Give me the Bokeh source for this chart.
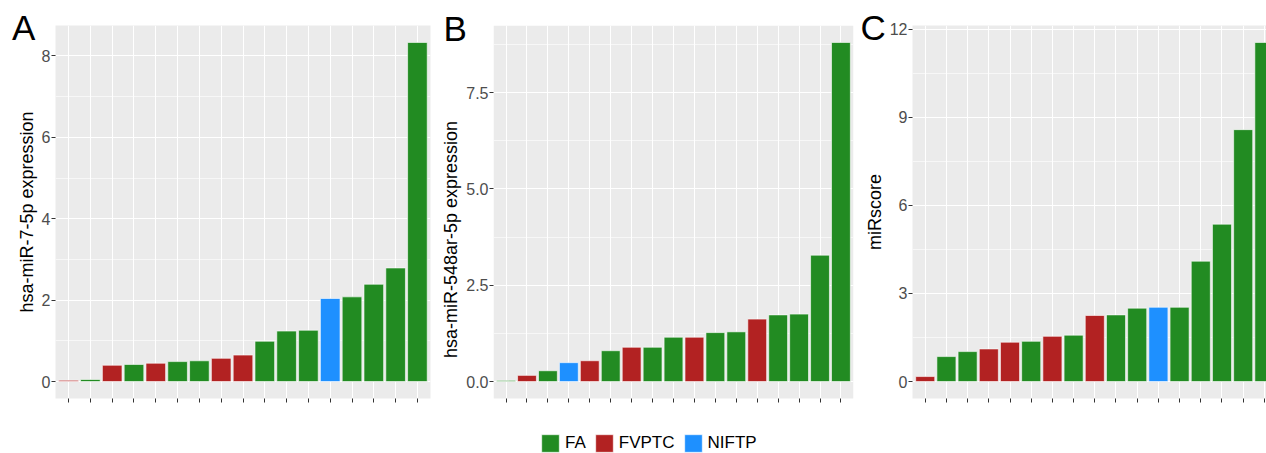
from bokeh.plotting import figure
from bokeh.models import Range1d, FixedTicker, Label, ColumnDataSource, BoxAnnotation
from bokeh.transform import factor_cmap
from bokeh.layouts import row
from bokeh.embed import file_html
from bokeh.resources import INLINE

FONT = "Liberation Sans"
PANEL_BG = "#EBEBEB"

groups = ["FA", "FVPTC", "NIFTP"]
group_colors = ["#228B22", "#B22222", "#1E90FF"]

# Panel A: hsa-miR-7-5p expression (sorted samples)
a_values = [0.03, 0.05, 0.40, 0.42, 0.45, 0.49, 0.51, 0.57, 0.65, 0.99,
            1.24, 1.26, 2.04, 2.08, 2.39, 2.79, 8.33]
a_groups = ["FVPTC", "FA", "FVPTC", "FA", "FVPTC", "FA", "FA", "FVPTC", "FVPTC", "FA",
            "FA", "FA", "NIFTP", "FA", "FA", "FA", "FA"]
a_ticks = [0, 2, 4, 6, 8]
a_tick_labels = ["0", "2", "4", "6", "8"]
a_minor = [1, 3, 5, 7]

# Panel B: hsa-miR-548ar-5p expression
b_values = [0.03, 0.16, 0.28, 0.49, 0.54, 0.80, 0.89, 0.89, 1.15, 1.15,
            1.27, 1.29, 1.62, 1.73, 1.75, 3.28, 8.80]
b_groups = ["FA", "FVPTC", "FA", "NIFTP", "FVPTC", "FA", "FVPTC", "FA", "FA", "FVPTC",
            "FA", "FA", "FVPTC", "FA", "FA", "FA", "FA"]
b_ticks = [0, 2.5, 5, 7.5]
b_tick_labels = ["0.0", "2.5", "5.0", "7.5"]
b_minor = [1.25, 3.75, 6.25, 8.75]

# Panel C: miRscore
c_values = [0.17, 0.85, 1.02, 1.11, 1.34, 1.37, 1.54, 1.58, 2.25, 2.27,
            2.50, 2.53, 2.53, 4.10, 5.36, 8.58, 11.55]
c_groups = ["FVPTC", "FA", "FA", "FVPTC", "FVPTC", "FA", "FVPTC", "FA", "FVPTC", "FA",
            "FA", "NIFTP", "FA", "FA", "FA", "FA", "FA"]
c_ticks = [0, 3, 6, 9, 12]
c_tick_labels = ["0", "3", "6", "9", "12"]
c_minor = [1.5, 4.5, 7.5, 10.5]

titles = ["hsa-miR-7-5p expression", "hsa-miR-548ar-5p expression", "miRscore"]
letters = ["A", "B", "C"]

PANEL_H = 373      # height of the grey plotting panel in px
TOP = 25


def panel(values, grp, ticks, tick_labels, minor, title, letter,
          frame_w, mb_left, mb_right, x_end, letter_x, legend=False):
    n = len(values)
    x = list(range(1, n + 1))
    src = ColumnDataSource(dict(x=x, top=values, group=grp))
    vmax = max(values)
    y0, y1 = -0.05 * vmax, 1.05 * vmax

    if legend:
        # frame extended down to the page bottom so that the legend can sit inside it
        frame_h = 428
        y_start = y1 - (y1 - y0) * frame_h / PANEL_H
        mb_bottom = 50
        bg = "white"
    else:
        frame_h = PANEL_H
        y_start = y0
        mb_bottom = 55
        bg = PANEL_BG

    p = figure(frame_width=frame_w, frame_height=frame_h,
               min_border_left=mb_left, min_border_right=mb_right,
               min_border_top=TOP, min_border_bottom=mb_bottom,
               x_range=Range1d(0.4, x_end),
               y_range=Range1d(y_start, y1),
               output_backend="svg", toolbar_location=None,
               background_fill_color=bg, border_fill_color="white",
               outline_line_color=None)
    if legend:
        p.add_layout(BoxAnnotation(bottom=y0, fill_color=PANEL_BG, fill_alpha=1,
                                   line_color=None, level="image"))

    kw = {}
    if legend:
        kw["legend_group"] = "group"
    p.vbar(x="x", top="top", bottom=0, width=0.9, source=src,
           fill_color=factor_cmap("group", group_colors, groups),
           line_color="white", line_width=0.6, **kw)

    # x axis: ticks only
    p.xaxis.ticker = FixedTicker(ticks=x)
    p.xaxis.major_label_overrides = {i: "" for i in x}
    p.xaxis.major_label_text_font_size = "1px"
    p.xaxis.major_label_standoff = 0
    p.xaxis.axis_line_color = None
    p.xaxis.major_tick_line_color = "#333333"
    p.xaxis.major_tick_in = 0
    p.xaxis.major_tick_out = 4
    p.xaxis.minor_tick_line_color = None
    if legend:
        p.xaxis.fixed_location = y0

    # y axis
    p.yaxis.ticker = FixedTicker(ticks=ticks, minor_ticks=minor)
    p.yaxis.major_label_overrides = {t: l for t, l in zip(ticks, tick_labels)}
    p.yaxis.axis_line_color = None
    p.yaxis.major_tick_line_color = "#333333"
    p.yaxis.major_tick_in = 0
    p.yaxis.major_tick_out = 4
    p.yaxis.minor_tick_line_color = None
    p.yaxis.major_label_standoff = 1
    p.yaxis.major_label_text_font = FONT
    p.yaxis.major_label_text_font_size = "16px"
    p.yaxis.major_label_text_color = "#4D4D4D"
    p.yaxis.axis_label = title
    p.yaxis.axis_label_text_font = FONT
    p.yaxis.axis_label_text_font_size = "18px"
    p.yaxis.axis_label_text_font_style = "normal"
    p.yaxis.axis_label_text_color = "#000000"
    p.yaxis.axis_label_standoff = 2

    p.xgrid.grid_line_color = "white"
    p.xgrid.grid_line_width = 1.1
    p.ygrid.grid_line_color = "white"
    p.ygrid.grid_line_width = 1.2
    p.ygrid.minor_grid_line_color = "white"
    p.ygrid.minor_grid_line_width = 0.6

    if legend:
        lg = p.legend[0]
        lg.orientation = "horizontal"
        lg.location = (46, -1)
        lg.glyph_width = 22
        lg.glyph_height = 22
        lg.label_standoff = 4
        lg.spacing = 7
        lg.padding = 0
        lg.margin = 0
        lg.border_line_color = None
        lg.background_fill_alpha = 0
        lg.label_text_font = FONT
        lg.label_text_font_size = "17px"
        lg.label_text_color = "#000000"
        lg.label_height = 22

    # panel letter: lives in the bottom side panel (not clipped), shifted to the top-left
    canvas_bottom = TOP + frame_h + mb_bottom
    p.add_layout(Label(x=letter_x, y=canvas_bottom + 1 - 40,
                       x_units="screen", y_units="screen",
                       text=letter, text_font=FONT, text_font_size="35px",
                       text_color="black", text_align="left",
                       text_baseline="alphabetic"), "below")
    return p


pA = panel(a_values, a_groups, a_ticks, a_tick_labels, a_minor, titles[0], letters[0],
           frame_w=375, mb_left=55, mb_right=5, x_end=len(a_values) + 0.6, letter_x=-43.5)
pB = panel(b_values, b_groups, b_ticks, b_tick_labels, b_minor, titles[1], letters[1],
           frame_w=360, mb_left=58, mb_right=4, x_end=len(b_values) + 0.6, letter_x=-50,
           legend=True)
pC = panel(c_values, c_groups, c_ticks, c_tick_labels, c_minor, titles[2], letters[2],
           frame_w=354, mb_left=55, mb_right=0, x_end=len(c_values) + 0.1, letter_x=-52)

layout = row(pA, pB, pC)
open("out.html", "w").write(file_html(layout, INLINE))
